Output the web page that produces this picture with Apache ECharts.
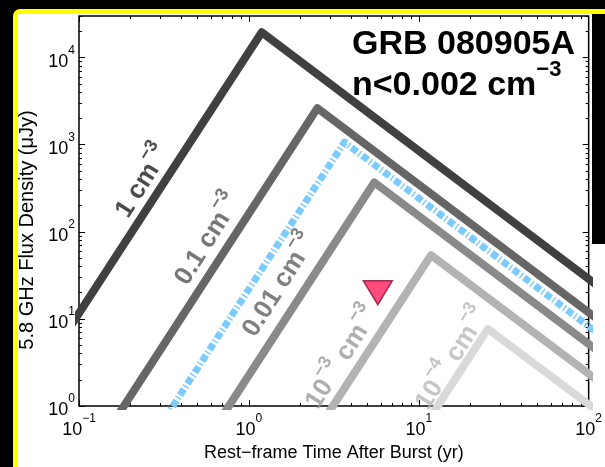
<!DOCTYPE html>
<html><head><meta charset="utf-8">
<script src="https://cdn.jsdelivr.net/npm/echarts@6/dist/echarts.min.js"></script>
<style>
html,body{margin:0;padding:0;background:#000;width:605px;height:467px;overflow:hidden}
#frame{position:absolute;left:13px;top:9px;width:620px;height:480px;background:#ffff00;border-radius:7px}
#paper{position:absolute;left:18px;top:14px;width:600px;height:460px;background:#fff}
#strip{position:absolute;left:592px;top:14px;width:20px;height:230px;background:#000}
#chart{position:absolute;left:0;top:0;width:605px;height:467px}
</style></head><body>
<div id="frame"></div><div id="paper"></div><div id="strip"></div>
<div id="chart"></div>
<script>
// ---- data (time in yr, flux density in microJy) ----
const curve1 = [[0.05, 1.46], [1.19, 19500], [200, 10.4]];      // n = 1 cm^-3
const curve01 = [[0.123, 0.3], [2.53, 2630], [200, 4.3]];       // n = 0.1
const curveBlue = [[0.239, 0.3], [3.65, 1070], [200, 2.98]];    // n = 0.002 (limit)
const curve001 = [[0.51, 0.3], [5.47, 369], [200, 1.86]];       // n = 0.01
const curve1e3 = [[2.09, 0.3], [11.8, 54], [200, 0.85]];        // n = 1e-3
const curve1e4 = [[8.63, 0.3], [25.5, 7.7], [200, 0.38]];       // n = 1e-4
const upperLimit = [[5.74, 20]];
const labelT = [0.228, 0.55, 1.455, 3.40, 15.1];
const labelF = [398, 85.8, 25.7, 3.78, 3.68];
const labelPieces = [['1 cm', '−3'], ['0.1 cm', '−3'], ['0.01 cm', '−3'], ['10', '−3', ' cm', '−3'], ['10', '−4', ' cm', '−3']];
const xMajorTicks = [0.1, 1, 10, 100];
const yMajorTicks = [1, 10, 100, 1000, 10000];
const minorMultipliers = [2, 3, 4, 5, 6, 7, 8, 9];
const xMin = 0.1, xMax = 100, yMin = 1, yMax = 30000;

const FONT = '"Liberation Sans", Arial, Helvetica, sans-serif';
const TICK = '#000';
const lineColors = ['#404040', '#666666', '#8a8a8a', '#b3b3b3', '#d9d9d9'];
const labelColors = ['#1e1e1e', '#555555', '#606060', '#9a9a9a', '#b8b8b8'];

const xMinorTicks = [], yMinorTicks = [];
xMajorTicks.slice(0, -1).forEach(function (d) { minorMultipliers.forEach(function (k) { xMinorTicks.push(k * d); }); });
yMajorTicks.forEach(function (d) { minorMultipliers.forEach(function (k) { if (k * d <= yMax) yMinorTicks.push(k * d); }); });

function expLabel(v) {
  const l = Math.log10(v), e = Math.round(l);
  if (Math.abs(l - e) > 1e-6) return '';
  return '{b|10}{s|' + (e < 0 ? '−' + (-e) : String(e)) + '}';
}
const axisRich = {
  b: { fontSize: 18, fontFamily: FONT, color: '#000', lineHeight: 26, verticalAlign: 'bottom' },
  s: { fontSize: 12, fontFamily: FONT, color: '#000', lineHeight: 10, verticalAlign: 'top' }
};

function tickAxis(kind, pos, vals, len) {
  return { type: 'log', logBase: 10, min: kind === 'x' ? xMin : yMin, max: kind === 'x' ? xMax : yMax, position: pos,
    axisLine: { show: false }, splitLine: { show: false }, axisLabel: { show: false },
    axisTick: { show: true, inside: true, length: len, customValues: vals, lineStyle: { color: TICK, width: 1 } } };
}

function lineSeries(data, color, z) {
  return { type: 'line', data: data, symbol: 'none', clip: true, z: z, silent: true,
    lineStyle: { color: color, width: 8, join: 'round', cap: 'butt' } };
}

const labelData = labelPieces.map(function (p, i) {
  let txt = '';
  for (let j = 0; j < p.length; j++) txt += (j % 2 === 0 ? '{b|' : '{s|') + p[j] + '}';
  return { value: [labelT[i], labelF[i]], label: { formatter: txt, rich: {
    b: { fontSize: 26, fontWeight: 'bold', fontFamily: FONT, color: labelColors[i], lineHeight: 34, verticalAlign: 'bottom' },
    s: { fontSize: 18, fontWeight: 'bold', fontFamily: FONT, color: labelColors[i], lineHeight: 14, verticalAlign: 'top' } } } };
});

const chart = echarts.init(document.getElementById('chart'), null, { renderer: 'canvas' });
chart.setOption({
  backgroundColor: 'transparent',
  animation: false,
  grid: { left: 79, right: 15, top: 16, bottom: 49, show: true, borderColor: '#000', borderWidth: 1.5, backgroundColor: 'transparent' },
  xAxis: [
    { type: 'log', logBase: 10, min: xMin, max: xMax, position: 'bottom',
      axisLine: { show: false }, splitLine: { show: false },
      axisTick: { show: true, inside: true, length: 6, customValues: xMajorTicks, lineStyle: { color: TICK, width: 1 } },
      axisLabel: { formatter: expLabel, rich: axisRich, margin: 7, customValues: xMajorTicks, showMinLabel: true, showMaxLabel: true },
      name: 'Rest−frame Time After Burst (yr)', nameLocation: 'middle', nameGap: 29,
      nameTextStyle: { fontSize: 18, fontFamily: FONT, color: '#000', verticalAlign: 'top' } },
    tickAxis('x', 'bottom', xMinorTicks, 3),
    tickAxis('x', 'top', xMajorTicks, 6),
    tickAxis('x', 'top', xMinorTicks, 3)
  ],
  yAxis: [
    { type: 'log', logBase: 10, min: yMin, max: yMax, position: 'left',
      axisLine: { show: false }, splitLine: { show: false },
      axisTick: { show: true, inside: true, length: 6, customValues: yMajorTicks, lineStyle: { color: TICK, width: 1 } },
      axisLabel: { formatter: expLabel, rich: axisRich, margin: 4, customValues: yMajorTicks },
      name: '5.8 GHz Flux Density (μJy)', nameLocation: 'middle', nameGap: 37, nameRotate: 90,
      nameTextStyle: { fontSize: 20, fontFamily: FONT, color: '#000', padding: [0, 38, 0, 0] } },
    tickAxis('y', 'left', yMinorTicks, 3),
    tickAxis('y', 'right', yMajorTicks, 6),
    tickAxis('y', 'right', yMinorTicks, 3)
  ],
  graphic: [
    { type: 'text', left: 352, top: 28, z: 100, style: { text: 'GRB 080905A', font: 'bold 34px ' + FONT, fill: '#000' } },
    { type: 'text', left: 352, top: 59, z: 100, style: { text: '{a|n<0.002 cm}{s|−3}', rich: {
      a: { fontSize: 34, fontWeight: 'bold', fontFamily: FONT, fill: '#000', lineHeight: 44, verticalAlign: 'bottom' },
      s: { fontSize: 22, fontWeight: 'bold', fontFamily: FONT, fill: '#000', lineHeight: 13, verticalAlign: 'top' } } } }
  ],
  series: [
    lineSeries(curve1, lineColors[0], 5),
    lineSeries(curve01, lineColors[1], 5),
    lineSeries(curve001, lineColors[2], 5),
    lineSeries(curve1e3, lineColors[3], 5),
    lineSeries(curve1e4, lineColors[4], 5),
    { type: 'line', data: curveBlue, symbol: 'none', clip: true, z: 6, silent: true,
      lineStyle: { color: '#7ccbff', width: 7, type: [7, 2.5, 1.5, 2.5], join: 'round', cap: 'butt' } },
    { type: 'scatter', data: upperLimit, symbol: 'triangle', symbolRotate: 180, symbolSize: [29, 24], z: 8,
      itemStyle: { color: '#ff1f5b', borderColor: '#8c0b35', borderWidth: 1.5 } },
    { type: 'scatter', data: labelData, symbolSize: 0, z: 9, silent: true,
      label: { show: true, position: 'inside', rotate: 57.8, align: 'center', verticalAlign: 'middle' } }
  ]
});
</script>
</body></html>
